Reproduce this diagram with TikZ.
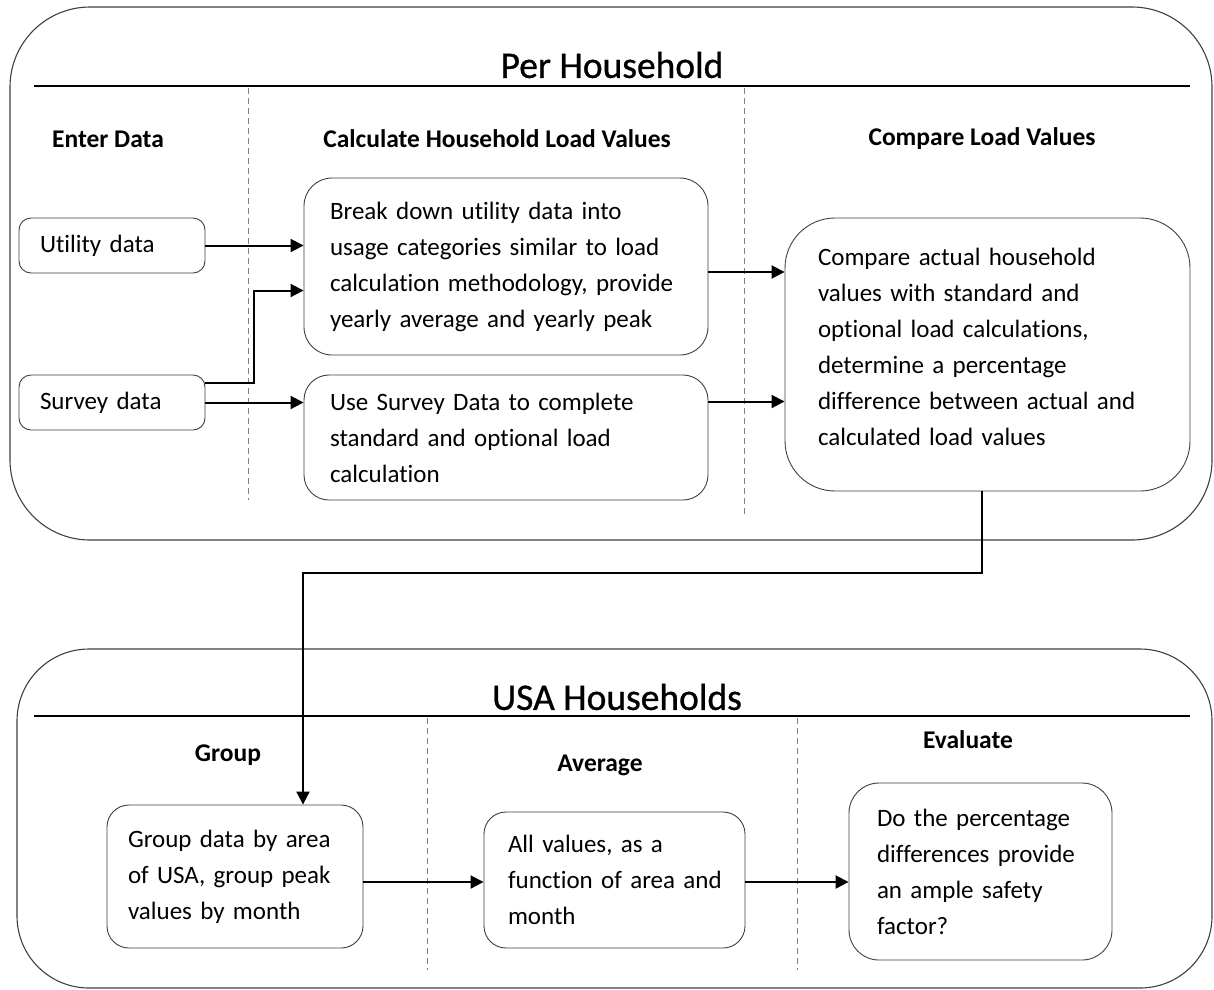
\documentclass[tikz,border=0pt]{standalone}
\usepackage{fontspec}
\setmainfont{Carlito}[Ligatures=NoCommon]
\newfontfamily\titlefam{Carlito}[FakeBold=0.8,Ligatures=NoCommon]
\usetikzlibrary{arrows.meta}
\newcommand{\bodyfont}{\fontsize{25}{36}\selectfont}
\newcommand{\headfont}{\fontsize{25.5}{30}\selectfont\bfseries}
\newcommand{\titlefont}{\titlefam\fontsize{37.5}{44}\selectfont}
\begin{document}
\begin{tikzpicture}[x=1pt,y=-1pt,
  box/.style={draw=black!75, line width=0.9pt, rounded corners=12pt, inner sep=0pt, align=left, font=\bodyfont},
  outer/.style={draw=black!75, line width=1.1pt},
  sep/.style={draw=black!50, line width=0.9pt, dash pattern=on 6pt off 4pt},
  hline/.style={draw=black, line width=1.2pt},
  head/.style={font=\headfont, inner sep=0pt},
  title/.style={font=\titlefont, inner sep=0pt},
  arr/.style={draw=black, line width=2pt, -{Triangle[length=13pt,width=13pt]}}]
\useasboundingbox (0,0) rectangle (1214,989);
\fill[white] (0,0) rectangle (1214,989);

% outer containers
\draw[outer, rounded corners=80pt] (10,7) rectangle (1212,540);
\draw[outer, rounded corners=72pt] (17,649) rectangle (1212,988);
\coordinate (h1a) at (34,86);
\coordinate (h1b) at (1190,86);
\draw[hline] (h1a) -- (h1b);
\coordinate (h2a) at (34,716);
\coordinate (h2b) at (1190,716);
\draw[hline] (h2a) -- (h2b);

\node[title] (t1) at (612,65) {Per Household};
\node[title] (t2) at (617,697) {USA Households};

% dashed separators
\coordinate (d1a) at (248,88); \coordinate (d1b) at (248,500);
\coordinate (d2a) at (744,88); \coordinate (d2b) at (744,515);
\coordinate (d3a) at (427,718); \coordinate (d3b) at (427,970);
\coordinate (d4a) at (797,718); \coordinate (d4b) at (797,970);
\draw[sep] (d1a) -- (d1b);
\draw[sep] (d2a) -- (d2b);
\draw[sep] (d3a) -- (d3b);
\draw[sep] (d4a) -- (d4b);

% column headers
\node[head] (hEnter) at (108,139) {Enter Data};
\node[head] (hCalc) at (497,139) {Calculate Household Load Values};
\node[head] (hComp) at (982,139) {Compare Load Values};
\node[head] (hGroup) at (228,755) {Group};
\node[head] (hAvg) at (600,765) {Average};
\node[head] (hEval) at (968,740) {Evaluate};

% boxes
\node[box, minimum width=186pt, minimum height=55pt, text width=144pt] (util) at (112,245.5) {Utility data};
\node[box, minimum width=186pt, minimum height=55pt, text width=144pt] (surv) at (112,402.5) {Survey data};
\node[box, rounded corners=28pt, minimum width=404pt, minimum height=177pt, text width=352pt] (brk) at (506,266.5)
  {\mbox{Break down utility data into}\\\mbox{usage categories similar to load}\\\mbox{calculation methodology, provide}\\\mbox{yearly average and yearly peak}};
\node[box, rounded corners=25pt, minimum width=404pt, minimum height=125pt, text width=352pt] (use) at (506,437.5)
  {\mbox{Use Survey Data to complete}\\\mbox{standard and optional load}\\calculation};
\node[box, rounded corners=50pt, minimum width=405pt, minimum height=273pt, text width=339pt] (cmp) at (987.5,354.5)
  {\mbox{Compare actual household}\\\mbox{values with standard and}\\\mbox{optional load calculations,}\\\mbox{determine a percentage}\\\mbox{difference between actual and}\\\mbox{calculated load values}\\[-20pt]\mbox{}};
\node[box, rounded corners=22pt, minimum width=256pt, minimum height=143pt, text width=214pt] (grp) at (235,876.5)
  {\mbox{Group data by area}\\\mbox{of USA, group peak}\\\mbox{values by month}};
\node[box, rounded corners=22pt, minimum width=261pt, minimum height=136pt, text width=213pt] (avg) at (614.5,880)
  {\mbox{All values, as a}\\\mbox{function of area and}\\month};
\node[box, rounded corners=30pt, minimum width=263pt, minimum height=177pt, text width=207pt] (evl) at (980.5,871.5)
  {\mbox{Do the percentage}\\\mbox{differences provide}\\\mbox{an ample safety}\\factor?};

% connectors
\draw[arr] (util.east) -- (util.east -| brk.west);
\draw[arr] ([yshift=20pt]surv.east) -- ++(49,0) |- ([yshift=-24pt]brk.west);
\draw[arr] (surv.east) -- (surv.east -| use.west);
\draw[arr] ([yshift=-5.5pt]brk.east) -- ([yshift=-5.5pt]brk.east -| cmp.west);
\draw[arr] ([yshift=36pt]use.east) -- ([yshift=36pt]use.east -| cmp.west);
\draw[arr] ([xshift=-6pt]cmp.south) -- ++(0,82) -| ([xshift=68pt]grp.north);
\draw[arr] ([yshift=-5.5pt]grp.east) -- ([yshift=-5.5pt]grp.east -| avg.west);
\draw[arr] ([yshift=-2pt]avg.east) -- ([yshift=-2pt]avg.east -| evl.west);
\end{tikzpicture}
\end{document}
